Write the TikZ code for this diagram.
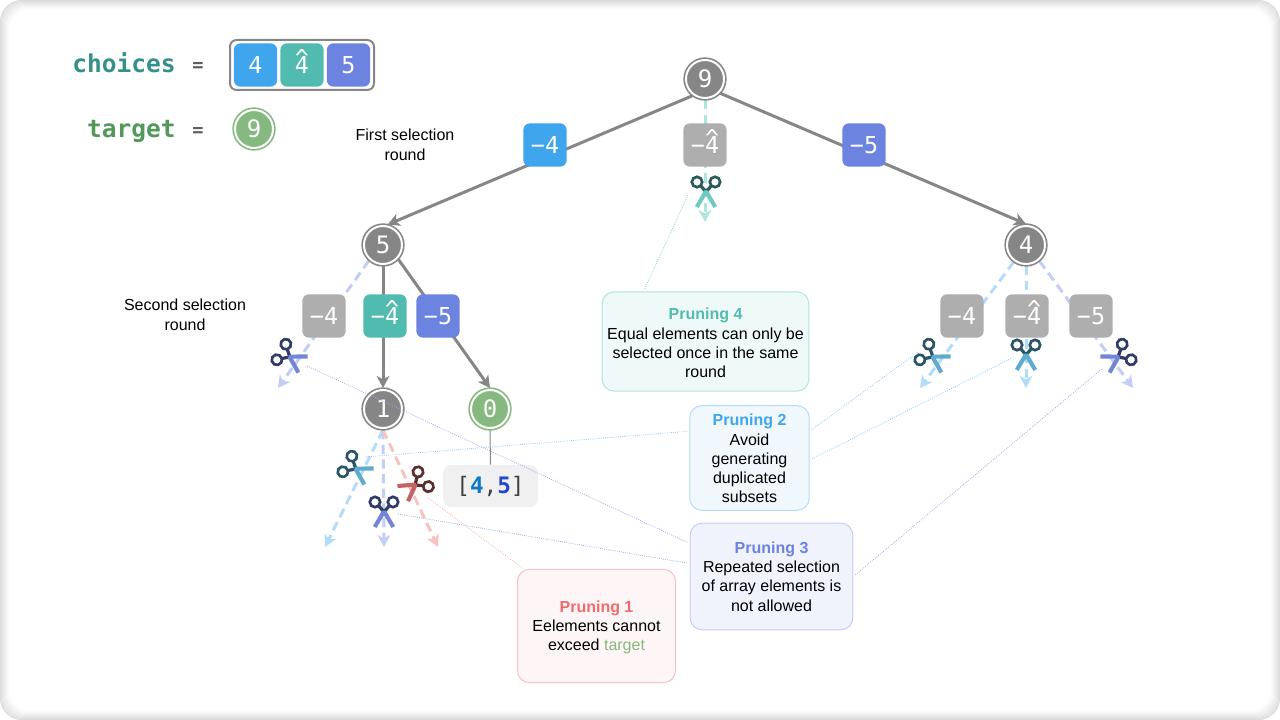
\documentclass[tikz,border=0pt]{standalone}
\usepackage{xcolor}
\usepackage{fontspec}
\setmainfont{Liberation Sans}
\setmonofont{DejaVu Sans Mono}
\usepackage{tikz}
\usetikzlibrary{arrows.meta,backgrounds}
\definecolor{numgray}{HTML}{868686}
\definecolor{boxgray}{HTML}{AEAEAE}
\definecolor{numgreen}{HTML}{85B97F}
\definecolor{pickblue}{HTML}{3FA5EC}
\definecolor{pickteal}{HTML}{52BBB0}
\definecolor{pickindigo}{HTML}{6C83DF}
\definecolor{pickred}{HTML}{F06B6B}
\definecolor{softblue}{HTML}{B3DCF8}
\definecolor{softteal}{HTML}{B0E4DF}
\definecolor{softindigo}{HTML}{C4CDF5}
\definecolor{softred}{HTML}{F8C2C0}
\definecolor{gripteal}{HTML}{2B5A5C}
\definecolor{gripindigo}{HTML}{2F3C66}
\definecolor{gripblue}{HTML}{2C5468}
\definecolor{gripred}{HTML}{5A2E2E}
\definecolor{bladeteal}{HTML}{6FCBC2}
\definecolor{bladeindigo}{HTML}{7385D6}
\definecolor{bladeblue}{HTML}{5FAAD0}
\definecolor{bladered}{HTML}{C46464}
\definecolor{choicetext}{HTML}{36908A}
\definecolor{targettext}{HTML}{52985A}
\definecolor{leafblue}{HTML}{0F78C8}
\definecolor{leafindigo}{HTML}{2347CC}
\tikzset{
  numnode/.style={circle,minimum size=28.5pt,inner sep=0pt,outer sep=1.5pt,fill=#1,draw=white,line width=1.5pt,
    preaction={draw=#1,line width=4pt},text=white,font=\ttfamily\fontsize{18}{20}\selectfont},
  pickbox/.style={rectangle,rounded corners=5pt,minimum size=32.5pt,inner sep=0pt,fill=#1,text=white,
    font=\ttfamily\fontsize{17.5}{20}\selectfont},
  notebox/.style n args={2}{rectangle,rounded corners=9pt,draw=#1,fill=#2,line width=.75pt,align=center,inner sep=0pt,
    font=\fontsize{12}{14.4}\selectfont},
  tree/.style={draw=numgray,line width=2.25pt},
  treearrow/.style={tree,-{Stealth[length=9pt,width=9.5pt,inset=2.5pt]}},
  pruned/.style={draw=#1,line width=2.25pt,dash pattern=on 7pt off 4pt,-{Stealth[length=9pt,width=9.5pt,inset=2.5pt]}},
  noteline/.style={draw=#1,line width=.6pt,densely dotted,shorten <=2pt},
  plain/.style={font=\fontsize{12}{15}\selectfont,align=center},
  varname/.style={inner sep=0pt,font=\ttfamily\bfseries\fontsize{18.4}{20}\selectfont},
  eqsign/.style={inner sep=0pt,font=\ttfamily\bfseries\fontsize{14}{16}\selectfont,text=numgray!70!black},
}
\newcommand{\hatted}[1]{\rlap{\smash{\raisebox{.3em}{\char`\^}}}#1}
% position, angle, handle colour, blade colour, name
\newcommand{\drawcut}[5]{
  \begin{scope}[shift={(#1)},rotate=#2]
    \draw[#3,line width=2pt] (-9,-10) circle (5.2) (9,-10) circle (5.2);
    \draw[#3,line width=2.4pt] (-5.5,-6.5) -- (0,0) (5.5,-6.5) -- (0,0);
    \fill[#4] (-2,-1.5) -- (2,-1.5) -- (11,14) -- (7.5,16) -- (0,3.5) -- (-7.5,16) -- (-11,14) -- cycle;
    \coordinate (#5) at (0,0);
  \end{scope}
}
\begin{document}
\begin{tikzpicture}[x=.75pt,y=-.75pt]
  \useasboundingbox (0,0) rectangle (1280,720);
  % panel edge
  \foreach \i in {0,...,8}{
    \pgfmathsetmacro{\shade}{(9-\i)*1.5}
    \draw[black!\shade,line width=.9pt,rounded corners=16pt] (\i+.5,\i+.5) rectangle (1279.5-\i,719.5-\i);
  }
  % choices and target
  \node[varname,text=choicetext,anchor=base east] (choiceslabel) at (176,72.5) {choices};
  \node[eqsign,anchor=base] (choiceseq) at (198,72) {=};
  \node[varname,text=targettext,anchor=base east] (targetlabel) at (176,138) {target};
  \node[eqsign,anchor=base] (targeteq) at (198,137) {=};
  \draw[numgray,line width=1.5pt,rounded corners=5pt] (230,40) rectangle (374,90);
  \node[pickbox=pickblue] (cell1) at (255.5,65) {4};
  \node[pickbox=pickteal] (cell2) at (302,65) {\hatted{4}};
  \node[pickbox=pickindigo] (cell3) at (348.5,65) {5};
  \node[numnode=numgreen] (targetnum) at (254,129) {9};
  \node[plain] (round1) at (405,145) {First selection\\round};
  \node[plain] (round2) at (185,315) {Second selection\\round};
  % tree nodes
  \node[numnode=numgray] (n9) at (705,79) {9};
  \node[numnode=numgray] (n5) at (383,245) {5};
  \node[numnode=numgray] (n4) at (1026,245) {4};
  \node[numnode=numgray] (n1) at (383,409) {1};
  \node[numnode=numgreen] (n0) at (490,409) {0};
  \node[pickbox=pickblue] (a4) at (545,145) {−4};
  \node[pickbox=boxgray] (a4h) at (705,145) {−\hatted{4}};
  \node[pickbox=pickindigo] (a5) at (864,145) {−5};
  \node[pickbox=boxgray] (b4) at (324,316) {−4};
  \node[pickbox=pickteal] (b4h) at (385,316) {−\hatted{4}};
  \node[pickbox=pickindigo] (b5) at (438,316) {−5};
  \node[pickbox=boxgray] (c4) at (962,316) {−4};
  \node[pickbox=boxgray] (c4h) at (1027,316) {−\hatted{4}};
  \node[pickbox=boxgray] (c5) at (1091,316) {−5};
  \node[rectangle,rounded corners=6pt,fill=black!6,minimum width=71pt,minimum height=31.5pt,inner sep=0pt,
    font=\ttfamily\fontsize{17}{19}\selectfont,text=black!75] (leaf) at (490.5,486)
    {[\textcolor{leafblue}{\textbf{4}},\textcolor{leafindigo}{\textbf{5}}]};
  % free ends
  \coordinate (e9) at (705,222);
  \coordinate (e5) at (278,388);
  \coordinate (e41) at (920,388);
  \coordinate (e42) at (1026,388);
  \coordinate (e43) at (1133,388);
  \coordinate (e11) at (325,547);
  \coordinate (e12) at (384,547);
  \coordinate (e13) at (438,547);
  \begin{scope}[on background layer]
    \draw[treearrow] (n9.233) -- (n5.77);
    \draw[treearrow] (n9.-43) -- (n4.north);
    \draw[treearrow] (n5.south) -- (n1.north);
    \draw[treearrow] (n5.-43) -- (n0.north);
    \draw[pruned=softteal] (n9.south) -- (e9);
    \draw[pruned=softindigo] (n5.228) -- (e5);
    \draw[pruned=softblue] (n4.234) -- (e41);
    \draw[pruned=softblue] (n4.south) -- (e42);
    \draw[pruned=softindigo] (n4.-50) -- (e43);
    \draw[pruned=softblue] (n1.south) -- (e11);
    \draw[pruned=softindigo] (n1.south) -- (e12);
    \draw[pruned=softred] (n1.south) -- (e13);
  \end{scope}
  \draw[numgray,line width=.75pt] (n0.south) -- (leaf.north);
  % scissors
  \drawcut{706,192}{0}{gripteal}{bladeteal}{cut1}
  \drawcut{290,357}{60}{gripindigo}{bladeindigo}{cut2}
  \drawcut{356,469}{60}{gripblue}{bladeblue}{cut3}
  \drawcut{384,512}{0}{gripindigo}{bladeindigo}{cut4}
  \drawcut{415,485}{-55}{gripred}{bladered}{cut5}
  \drawcut{933,357}{60}{gripblue}{bladeblue}{cut6}
  \drawcut{1026,355}{0}{gripblue}{bladeblue}{cut7}
  \drawcut{1118,357}{-60}{gripindigo}{bladeindigo}{cut8}
  % pruning notes
  \node[notebox={softred}{pickred!6},minimum width=118.5pt,minimum height=85pt] (p1) at (596.5,626)
    {\rule{0pt}{10.5pt}\textcolor{pickred}{\textbf{Pruning 1}}\\Eelements cannot\\exceed \textcolor{numgreen}{target}};
  \node[notebox={softblue}{pickblue!8},minimum width=89.5pt,minimum height=78.5pt] (p2) at (749.5,458)
    {\rule{0pt}{9.5pt}\textcolor{pickblue}{\textbf{Pruning 2}}\\Avoid\\generating\\duplicated\\subsets};
  \node[notebox={softindigo}{pickindigo!10},minimum width=122pt,minimum height=80pt] (p3) at (771.5,576.5)
    {\textcolor{pickindigo}{\textbf{Pruning 3}}\\Repeated selection\\of array elements is\\not allowed};
  \node[notebox={softteal}{pickteal!9},minimum width=155pt,minimum height=74.5pt] (p4) at (705.5,341.5)
    {\rule{0pt}{11pt}\textcolor{pickteal}{\textbf{Pruning 4}}\\Equal elements can only be\\selected once in the same\\round};
  \coordinate (m1) at (427,497);
  \coordinate (m21) at (365,457);
  \coordinate (m22) at (918,352);
  \coordinate (m23) at (1012,358);
  \coordinate (m31) at (307,366);
  \coordinate (m32) at (398,514);
  \coordinate (m33) at (1103,368);
  \coordinate (m4) at (688,195);
  \draw[noteline=pickred!55] (p1.142) -- (m1);
  \draw[noteline=pickblue!60] (p2.156) -- (m21);
  \draw[noteline=pickblue!60] (p2.24) -- (m22);
  \draw[noteline=pickblue!60] (p2.-2) -- (m23);
  \draw[noteline=pickindigo!70] (p3.158) -- (m31);
  \draw[noteline=pickindigo!70] (p3.171) -- (m32);
  \draw[noteline=pickindigo!70] (p3.east) -- (m33);
  \draw[noteline=pickteal!70] (p4.141) -- (m4);
\end{tikzpicture}
\end{document}
